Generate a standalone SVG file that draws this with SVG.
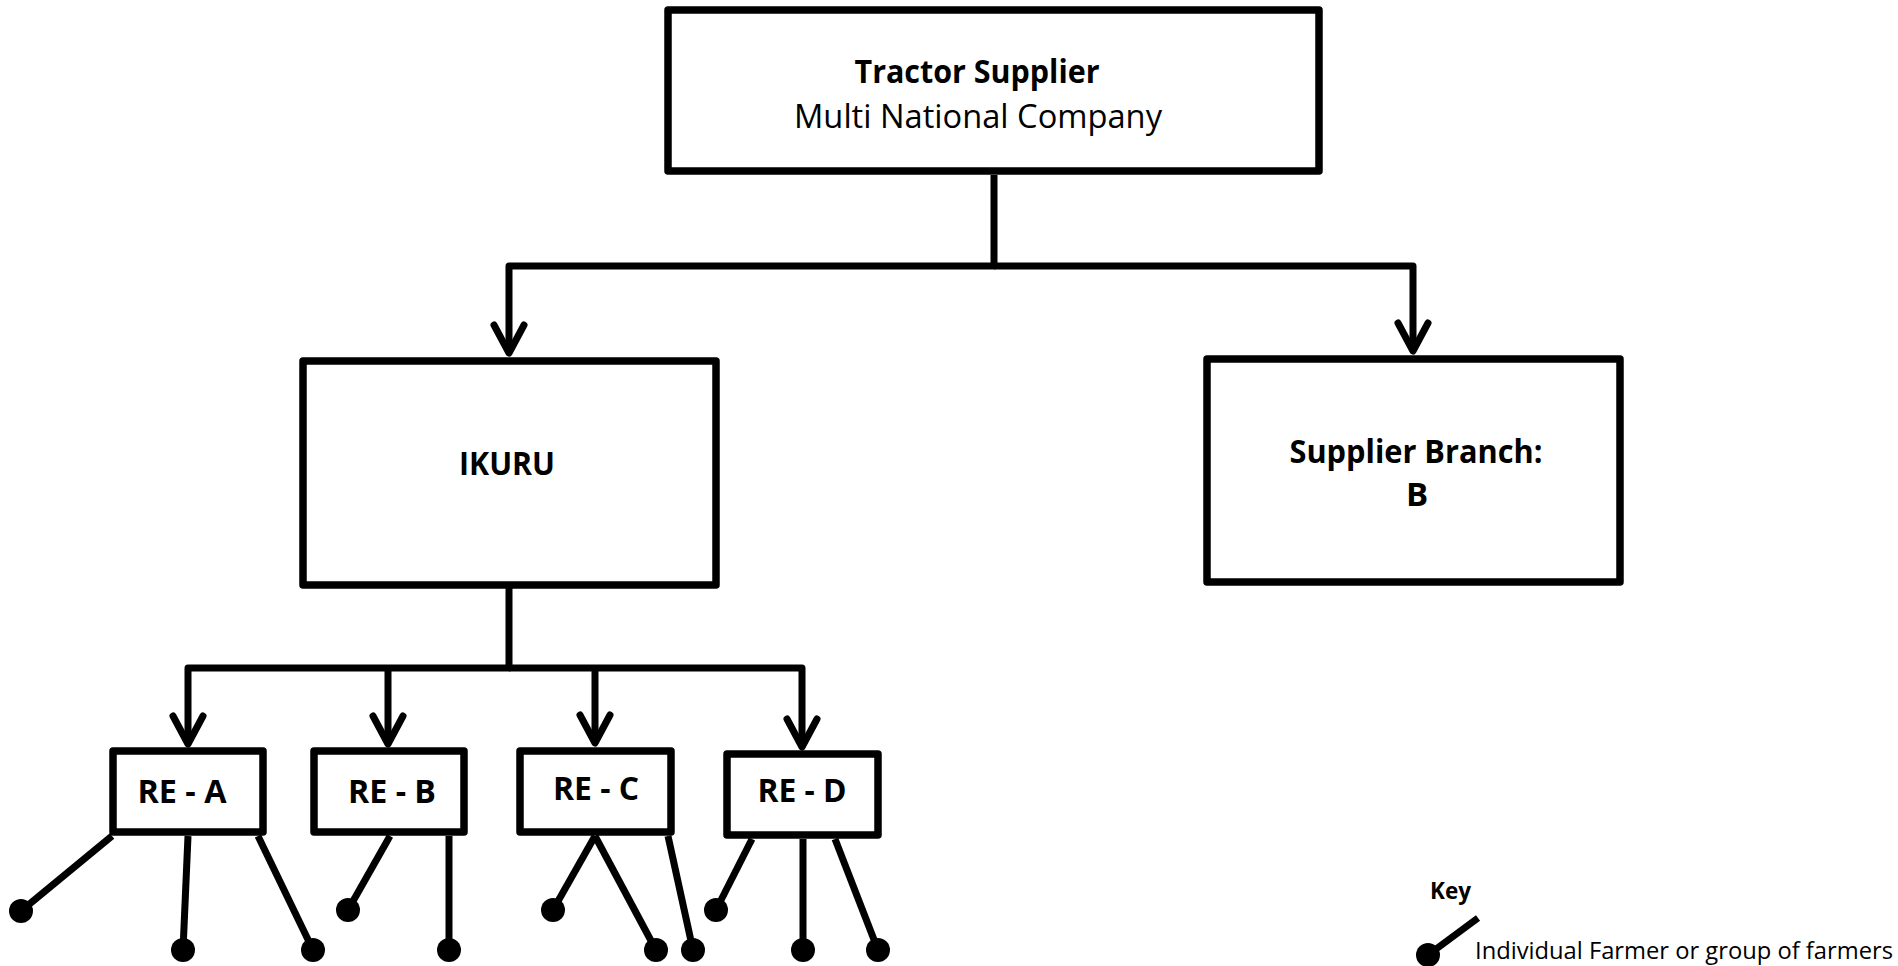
<svg xmlns="http://www.w3.org/2000/svg" width="1898" height="966" viewBox="0 0 1898 966">
<style>
  .box { fill: #ffffff; stroke: #000000; stroke-width: 7.5; stroke-linejoin: round; }
  .conn { fill: none; stroke: #000000; stroke-width: 7; stroke-linejoin: round; stroke-linecap: butt; }
  .leg { fill: none; stroke: #000000; stroke-width: 7; stroke-linecap: butt; }
  .dot { fill: #000000; }
  .t { font-family: "Open Sans", "Noto Sans", "Liberation Sans", sans-serif; fill: #000000; }
  .b { font-weight: bold; }
  .big { font-size: 33px; }
  .small { font-size: 24px; }
</style>
<defs>
  <marker id="arr" markerUnits="userSpaceOnUse" orient="auto" refX="0" refY="0" markerWidth="40" markerHeight="40" overflow="visible">
    <path d="M-28,-15 L0,0 L-28,15" fill="none" stroke="#000000" stroke-width="7" stroke-linecap="round" stroke-linejoin="round"/>
  </marker>
</defs>
<rect width="1898" height="966" fill="#ffffff"/>

<g id="connectors">
  <path class="conn" d="M994,175 V266 H509 V353" marker-end="url(#arr)"/>
  <path class="conn" d="M994,266 H1413 V351" marker-end="url(#arr)"/>
  <path class="conn" d="M509,588 V668 H188 V744" marker-end="url(#arr)"/>
  <path class="conn" d="M509,668 H802 V747" marker-end="url(#arr)"/>
  <path class="conn" d="M388,668 V744" marker-end="url(#arr)"/>
  <path class="conn" d="M595,668 V743" marker-end="url(#arr)"/>
  <g id="farmer-links">
    <line class="leg" x1="112" y1="836" x2="21" y2="911"/>
    <line class="leg" x1="188" y1="836" x2="183" y2="950"/>
    <line class="leg" x1="258" y1="836" x2="313" y2="950"/>
    <line class="leg" x1="390" y1="836" x2="348" y2="910"/>
    <line class="leg" x1="449" y1="836" x2="449" y2="950"/>
    <line class="leg" x1="595" y1="836" x2="553" y2="910"/>
    <line class="leg" x1="595" y1="836" x2="656" y2="950"/>
    <line class="leg" x1="668" y1="836" x2="693" y2="950"/>
    <line class="leg" x1="752" y1="839" x2="716" y2="910"/>
    <line class="leg" x1="803" y1="839" x2="803" y2="950"/>
    <line class="leg" x1="835" y1="839" x2="878" y2="950"/>
  </g>
</g>

<g id="tractor-supplier">
  <rect class="box" x="668" y="10" width="651" height="161"/>
  <text class="t b big" x="977" y="83" text-anchor="middle" textLength="245" lengthAdjust="spacingAndGlyphs">Tractor Supplier</text>
  <text class="t big" x="978" y="128" text-anchor="middle" textLength="368" lengthAdjust="spacingAndGlyphs">Multi National Company</text>
</g>

<g id="ikuru">
  <rect class="box" x="303" y="361" width="413" height="224"/>
  <text class="t b big" x="507" y="475" text-anchor="middle" textLength="96" lengthAdjust="spacingAndGlyphs">IKURU</text>
</g>

<g id="supplier-branch">
  <rect class="box" x="1207" y="359" width="413" height="223"/>
  <text class="t b big" x="1416" y="463" text-anchor="middle" textLength="253" lengthAdjust="spacingAndGlyphs">Supplier Branch:</text>
  <text class="t b big" x="1417" y="506" text-anchor="middle">B</text>
</g>

<g id="re-a">
  <rect class="box" x="113" y="751" width="150" height="81"/>
  <text class="t b big" x="182" y="803" text-anchor="middle" textLength="89" lengthAdjust="spacingAndGlyphs">RE - A</text>
</g>
<g id="re-b">
  <rect class="box" x="314" y="751" width="150" height="81"/>
  <text class="t b big" x="392" y="803" text-anchor="middle" textLength="88" lengthAdjust="spacingAndGlyphs">RE - B</text>
</g>
<g id="re-c">
  <rect class="box" x="520" y="751" width="151" height="81"/>
  <text class="t b big" x="596" y="800" text-anchor="middle" textLength="86" lengthAdjust="spacingAndGlyphs">RE - C</text>
</g>
<g id="re-d">
  <rect class="box" x="727" y="754" width="151" height="81"/>
  <text class="t b big" x="802" y="802" text-anchor="middle" textLength="89" lengthAdjust="spacingAndGlyphs">RE - D</text>
</g>

<g id="farmers">
  <circle class="dot" cx="21" cy="911" r="12"/>
  <circle class="dot" cx="183" cy="950" r="12"/>
  <circle class="dot" cx="313" cy="950" r="12"/>
  <circle class="dot" cx="348" cy="910" r="12"/>
  <circle class="dot" cx="449" cy="950" r="12"/>
  <circle class="dot" cx="553" cy="910" r="12"/>
  <circle class="dot" cx="656" cy="950" r="12"/>
  <circle class="dot" cx="693" cy="950" r="12"/>
  <circle class="dot" cx="716" cy="910" r="12"/>
  <circle class="dot" cx="803" cy="950" r="12"/>
  <circle class="dot" cx="878" cy="950" r="12"/>
</g>

<g id="key">
  <text class="t b small" x="1430" y="899" textLength="41" lengthAdjust="spacingAndGlyphs">Key</text>
  <line class="leg" x1="1478" y1="918" x2="1428" y2="955"/>
  <circle class="dot" cx="1428" cy="955" r="12"/>
  <text class="t small" x="1475" y="959" textLength="418" lengthAdjust="spacingAndGlyphs">Individual Farmer or group of farmers</text>
</g>
</svg>
